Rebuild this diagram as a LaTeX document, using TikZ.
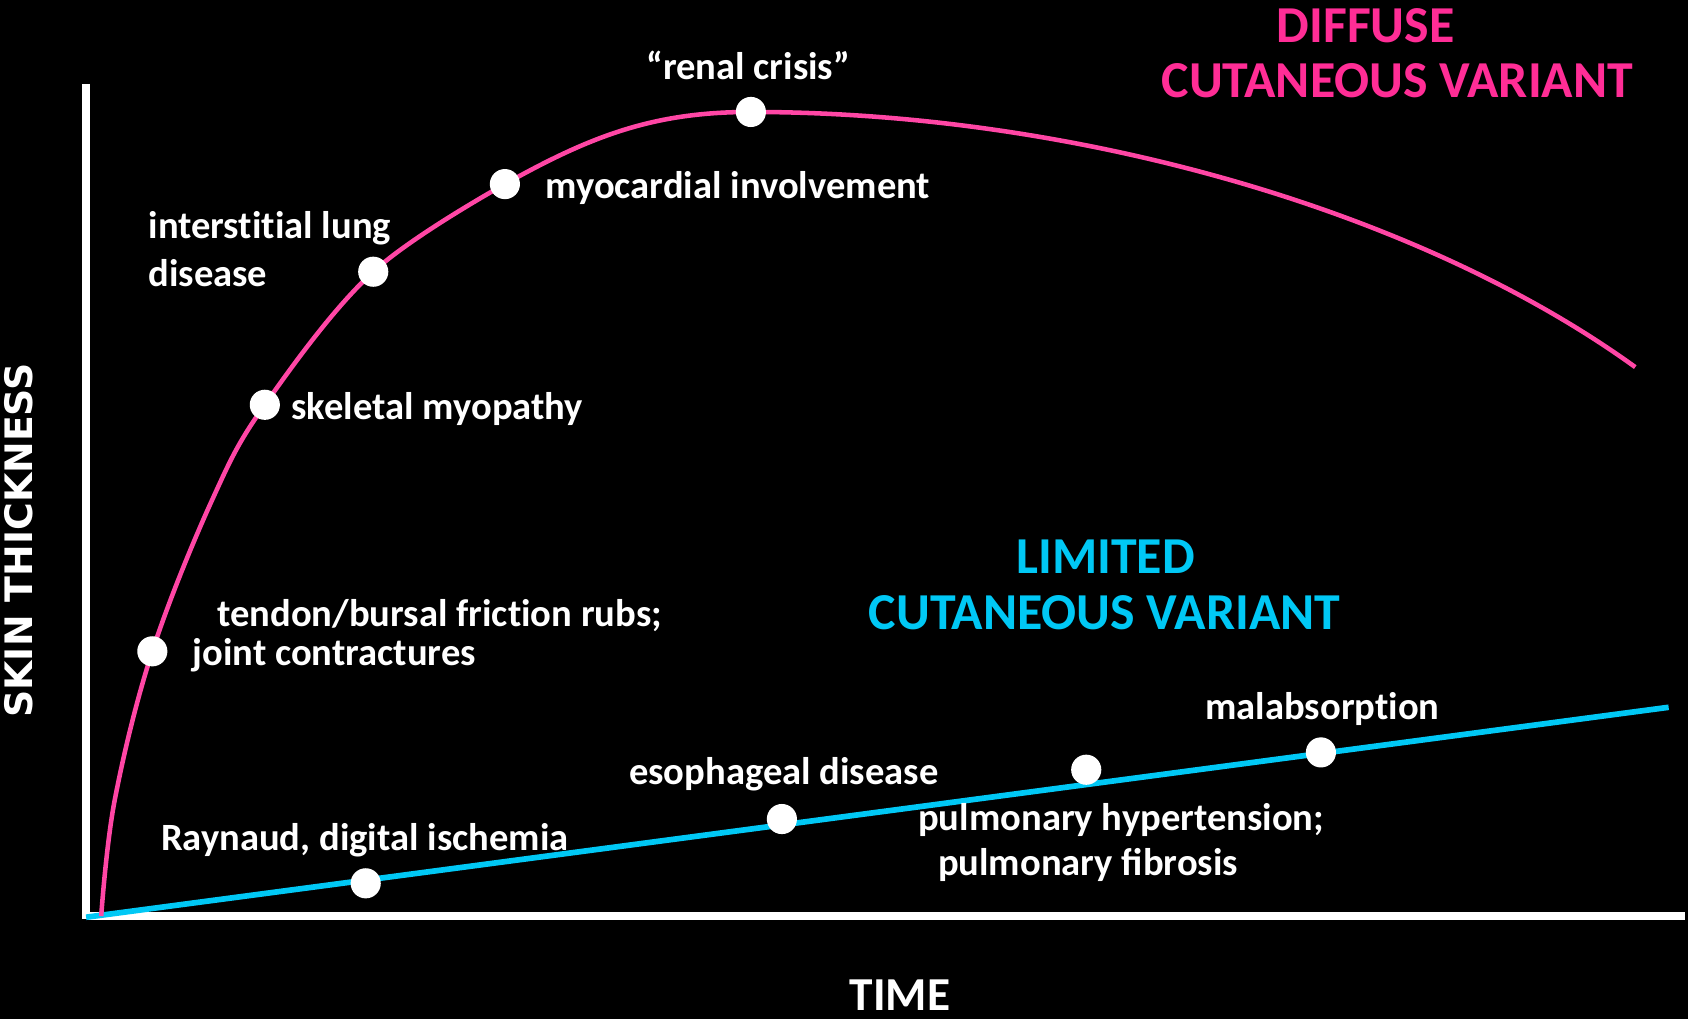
\documentclass[tikz,border=0pt]{standalone}
\usepackage{fontspec}
\setmainfont{Carlito}[Ligatures={TeX,NoCommon}]
\newfontfamily\axisfont{DejaVu Sans}
\usetikzlibrary{positioning}
\colorlet{background}{black}
\definecolor{diffuseColor}{RGB}{255,70,165}
\definecolor{diffuseTitle}{RGB}{255,45,150}
\definecolor{limitedColor}{RGB}{0,200,245}
\tikzset{
  dot/.style={circle,fill=white,inner sep=0pt,minimum size=0.56cm},
  lbl/.style={white,inner sep=0pt,anchor=base west,font=\bfseries\fontsize{20.4}{24}\selectfont},
  ttl/.style={inner sep=0pt,anchor=base,font=\bfseries\fontsize{27.4}{32}\selectfont},
  axislbl/.style={white,inner sep=0pt,anchor=base,font=\bfseries\fontsize{25}{30}\selectfont},
}

\begin{document}
\begin{tikzpicture}[x=0.02cm,y=-0.02cm]
\fill[background] (0,0) rectangle (1568,947);
\useasboundingbox (0,0) rectangle (1568,947);

% axes
\coordinate (ytop) at (80,78);
\coordinate (origin) at (80,854);
\coordinate (xleft) at (82,851);
\coordinate (xend) at (1565,851);
\draw[white,line width=3.9pt] (ytop) -- (origin);
\draw[white,line width=3.9pt] (xleft) -- (xend);

% limited variant
\coordinate (lstart) at (80,852);
\coordinate (lend) at (1550,657);
\draw[limitedColor,line width=3pt] (lstart) -- (lend);

% diffuse variant
\coordinate (peak) at (697,104);
\coordinate (dend) at (1519,341);
\draw[diffuseColor,line width=2.4pt] plot[smooth,tension=0.6] coordinates {
  (94,851) (106.6,743) (141.5,605) (197,464.5) (246,376) (346.7,252.4)
  (469,171)}
  .. controls (549,126.2) and (607,104) .. (peak)
  .. controls (997,104) and (1317,195) .. (dend);

\node[dot] (rubs) at (141.5,605) {};
\node[dot] (skeletal) at (246,376) {};
\node[dot] (lung) at (346.7,252.4) {};
\node[dot] (heart) at (469,171) {};
\node[dot] (renal) at (697.5,104) {};

\node[dot] (raynaud) at (339.7,820.5) {};
\node[dot] (esoph) at (726.3,760.8) {};
\node[dot] (pulm) at (1009,715) {};
\node[dot] (malabs) at (1227,698.9) {};

% labels
\node[lbl,anchor=base] (renallbl) at (695,73.7) {“renal crisis”};
\node[lbl] (heartlbl) at (506.5,184) {myocardial involvement};
\node[lbl] (lunglbl) at (137.6,222) {interstitial lung};
\node[lbl] (lunglbl2) at (137.6,266) {disease};
\node[lbl] (skeletallbl) at (270.4,390) {skeletal myopathy};
\node[lbl] (rubslbl) at (201.6,581.5) {tendon/bursal friction rubs;};
\node[lbl] (rubslbl2) at (178.6,617.8) {joint contractures};
\node[lbl] (raynaudlbl) at (149.3,789.6) {Raynaud, digital ischemia};
\node[lbl] (esophlbl) at (584,729) {esophageal disease};
\node[lbl] (malabslbl) at (1119.3,668) {malabsorption};
\node[lbl] (pulmlbl) at (852.6,771) {pulmonary hypertension;};
\node[lbl] (pulmlbl2) at (871,812.8) {pulmonary ﬁbrosis};

% titles
\node[ttl,diffuseTitle] (diffuse) at (1268.5,39.6) {DIFFUSE};
\node[ttl,diffuseTitle] (diffuse2) at (1298,90.7) {CUTANEOUS VARIANT};
\node[ttl,limitedColor] (limited) at (1027,532.6) {LIMITED};
\node[ttl,limitedColor] (limited2) at (1026,584.6) {CUTANEOUS VARIANT};

\node[axislbl] (time) at (836,939) {TIME};
\node[axislbl,rotate=90,font=\axisfont\bfseries\fontsize{20}{24}\selectfont] (skin) at (30,502) {SKIN THICKNESS};
\end{tikzpicture}
\end{document}
